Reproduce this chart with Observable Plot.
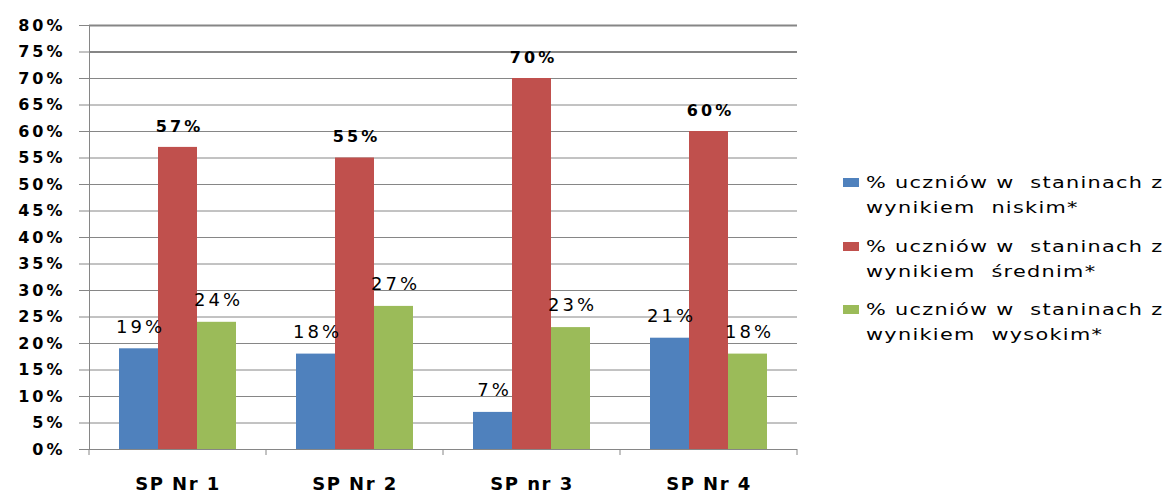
<!DOCTYPE html>
<html>
<head>
<meta charset="utf-8">
<script src="https://cdn.jsdelivr.net/npm/d3@7"></script>
<script src="https://cdn.jsdelivr.net/npm/@observablehq/plot@0.6"></script>
<style>
  body { margin: 0; background: #fff; }
  #wrap { position: relative; width: 1168px; height: 493px; overflow: hidden; font-family: "DejaVu Sans", sans-serif; background:#fff; }
  #chart { position: absolute; left: 0; top: 0; }
  #chart svg { display: block; }
  #chart [aria-label^="y-axis"] { color: #868686; }
  #chart [aria-label^="y-axis"] text { fill: #000; font-weight: bold; font-size: 16px; letter-spacing: 3px; }
  #chart [aria-label^="fx-axis"] text { fill: #000; font-weight: bold; font-size: 18px; letter-spacing: 1.5px; }
  #chart g[aria-label="text"] text { letter-spacing: 3px; }
  .item { position: absolute; left: 843px; }
  .swatch { position: absolute; left: 0; top: 8px; width: 16px; height: 9px; }
  .label { position: absolute; left: 23px; top: 0; white-space: pre; font-size: 16px; line-height: 25px; color: #000;
           letter-spacing: 1px; transform: scaleX(1.3); transform-origin: left center; }
</style>
</head>
<body>
<div id="wrap">
  <div id="chart"></div>
  <div id="legend"></div>
</div>
<script>
// ---- data ----
const categories = ["SP Nr 1", "SP Nr 2", "SP nr 3", "SP Nr 4"];
const seriesKeys = ["niski", "sredni", "wysoki"];
const seriesLabels = [
  ["% uczniów w  staninach z", "wynikiem  niskim*"],
  ["% uczniów w  staninach z", "wynikiem  średnim*"],
  ["% uczniów w  staninach z", "wynikiem  wysokim*"]
];
const lowValues  = [19, 18, 7, 21];
const midValues  = [57, 55, 70, 60];
const highValues = [24, 27, 23, 18];
const seriesColors = ["#4F81BD", "#C0504D", "#9BBB59"];
const yTickValues = [0, 5, 10, 15, 20, 25, 30, 35, 40, 45, 50, 55, 60, 65, 70, 75, 80];

// ---- table ----
const seriesValues = [lowValues, midValues, highValues];
const rows = [];
categories.forEach((c, i) => {
  seriesKeys.forEach((s, j) => rows.push({category: c, series: s, value: seriesValues[j][i] / 100}));
});
const ticks = yTickValues.map(d => d / 100);
const fmt = d => Math.round(d.value * 100) + "%";

const chart = Plot.plot({
  width: 1168,
  height: 493,
  marginLeft: 89,
  marginRight: 371,
  marginTop: 25,
  marginBottom: 44,
  style: {fontFamily: "DejaVu Sans", fontSize: "16px", color: "#000", background: "#fff"},
  fx: {domain: categories, padding: 0, axis: "bottom", label: null, tickSize: 0, tickPadding: 28},
  x: {domain: seriesKeys, paddingInner: 0, paddingOuter: 0.75, axis: null},
  y: {domain: [0, 0.8], ticks: ticks, tickFormat: d3.format(".0%"), tickSize: 10, tickPadding: 14, label: null},
  color: {domain: seriesKeys, range: seriesColors},
  marks: [
    Plot.ruleY(ticks, {stroke: "#868686", strokeWidth: d => d >= 0.75 ? 2 : 1}),
    Plot.barY(rows, {fx: "category", x: "series", y: "value", fill: "series"}),
    Plot.text(rows.filter(d => d.series !== "sredni"), {
      fx: "category", x: "series", y: "value", text: fmt, dy: -22, dx: 1.5,
      fontSize: 18, fill: "#000"
    }),
    Plot.text(rows.filter(d => d.series === "sredni"), {
      fx: "category", x: "series", y: "value", text: fmt, dy: -21, dx: 1.5,
      fontSize: 16, fontWeight: "bold", fill: "#000"
    })
  ]
});
document.getElementById("chart").appendChild(chart);

// ---- axis line and category boundary ticks, from Plot's own scales ----
const sfx = chart.scale("fx");
const sy = chart.scale("y");
const fxScale = d3.scaleBand(sfx.domain, sfx.range)
  .paddingInner(sfx.paddingInner ?? 0).paddingOuter(sfx.paddingOuter ?? 0).align(sfx.align ?? 0.5);
const yScale = d3.scaleLinear(sy.domain, sy.range);
const svg = d3.select(chart);
const g = svg.append("g").attr("stroke", "#868686").attr("stroke-width", 1);
const x0 = fxScale(categories[0]);
g.append("line").attr("x1", x0 + 0.5).attr("x2", x0 + 0.5).attr("y1", yScale(0.8)).attr("y2", yScale(0));
const edges = categories.map(c => fxScale(c)).concat([fxScale(categories[categories.length - 1]) + fxScale.bandwidth()]);
edges.forEach(x => {
  g.append("line").attr("x1", x).attr("x2", x).attr("y1", yScale(0)).attr("y2", yScale(0) + 6);
});

// ---- legend ----
const legend = document.getElementById("legend");
const legendTops = [170, 234, 297];
seriesKeys.forEach((s, i) => {
  const item = document.createElement("div");
  item.className = "item";
  item.style.top = legendTops[i] + "px";
  const sw = document.createElement("div");
  sw.className = "swatch";
  sw.style.background = seriesColors[i];
  const lab = document.createElement("div");
  lab.className = "label";
  lab.textContent = seriesLabels[i].join("\n");
  item.appendChild(sw);
  item.appendChild(lab);
  legend.appendChild(item);
});
</script>
</body>
</html>
